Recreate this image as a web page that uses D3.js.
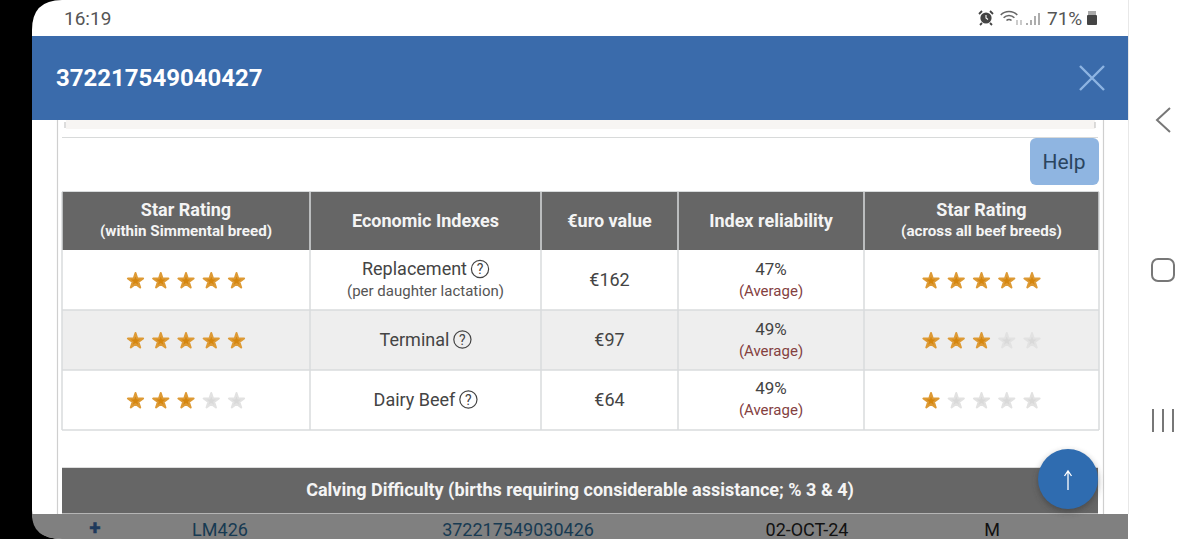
<!DOCTYPE html>
<html>
<head>
<meta charset="utf-8">
<script src="https://cdn.jsdelivr.net/npm/d3@7"></script>
<style>
  html, body { margin: 0; padding: 0; background: #fff; overflow: hidden; }
  svg { display: block; font-family: Roboto, sans-serif; }
</style>
</head>
<body>
<div id="container"></div>
<script>
/* DATA */
const columnTitles = ["Star Rating", "Economic Indexes", "€uro value", "Index reliability", "Star Rating"];
const columnSubtitles = ["(within Simmental breed)", "", "", "", "(across all beef breeds)"];
const indexNames = ["Replacement", "Terminal", "Dairy Beef"];
const indexNotes = ["(per daughter lactation)", "", ""];
const euroValues = [162, 97, 64];
const reliability = [47, 49, 49];
const reliabilityLabels = ["(Average)", "(Average)", "(Average)"];
const starsWithinBreed = [5, 5, 3];
const starsAcrossBreeds = [5, 3, 1];
const bottomRow = ["LM426", "372217549030426", "02-OCT-24", "M"];
const animalId = "372217549040427";
const calvingTitle = "Calving Difficulty (births requiring considerable assistance; % 3 & 4)";

/* CONSTANTS */
const width = 1200, height = 539;
const columnEdges = [62, 310, 541, 678, 864, 1099];
const rowTop = 250, rowBottom = 430;
const gridColor = "#d8dbdc", headColor = "#666666", blue = "#3a6bab";
const starOn = "#d5860f", starOff = "#d9d9d9";
const bodyText = "#444444";

const svg = d3.select("#container").append("svg")
  .attr("width", width)
  .attr("height", height);

// SCALES
const rowY = d3.scaleBand().domain(indexNames).range([rowTop, rowBottom]);
const colCenter = i => (columnEdges[i] + columnEdges[i + 1]) / 2;
const starX = d3.scalePoint().domain(d3.range(5)).range([-50.5, 50.5]);

function addText(g, x, y, str, size, fill, weight, anchor) {
  return g.append("text")
    .attr("x", x).attr("y", y)
    .attr("text-anchor", anchor || "middle")
    .attr("font-size", size)
    .attr("font-weight", weight || 400)
    .attr("fill", fill)
    .text(str);
}

// screen background + black bezel on the left
svg.append("rect").attr("width", width).attr("height", height).attr("fill", "#000");
svg.append("path")
  .attr("d", "M32,30 Q32,0 62,0 H1200 V539 H62 Q32,539 32,510 Z")
  .attr("fill", "#fff");

// status bar
addText(svg, 64, 25, "16:19", 19, "#555", 400, "start");
addText(svg, 1047, 25, "71%", 19, "#555", 400, "start");

const alarm = svg.append("g").attr("transform", "translate(986,18)");
alarm.append("circle").attr("r", 5.6).attr("fill", "#444");
alarm.append("path").attr("d", "M0,-3V0L2,1.5").attr("stroke", "#fff").attr("stroke-width", 1.1).attr("fill", "none");
alarm.append("path").attr("d", "M-7,-4L-4,-7M7,-4L4,-7M-4,5L-6,7M4,5L6,7").attr("stroke", "#444").attr("stroke-width", 1.8);

const wifi = svg.append("g").attr("transform", "translate(1009,23)").attr("fill", "none").attr("stroke", "#666").attr("stroke-width", 1.6);
[3.5, 7.5, 11.5].forEach(r => wifi.append("path")
  .attr("d", d3.arc()({ innerRadius: r, outerRadius: r, startAngle: -0.8, endAngle: 0.8 })));
wifi.append("path").attr("d", "M8,2V-3M12,2V-3").attr("stroke", "#aaa").attr("stroke-width", 1.2);

const signal = svg.append("g").attr("stroke", "#999").attr("stroke-width", 1.6);
[[1027, 2], [1031, 5], [1035, 9], [1039, 12]].forEach(b => signal.append("line")
  .attr("x1", b[0]).attr("x2", b[0]).attr("y1", 25).attr("y2", 25 - b[1]));

svg.append("rect").attr("x", 1087).attr("y", 15).attr("width", 10).attr("height", 10).attr("rx", 1).attr("fill", "#444");
svg.append("rect").attr("x", 1088).attr("y", 11).attr("width", 8).attr("height", 4).attr("fill", "#aaa");

// title band
svg.append("rect").attr("x", 32).attr("y", 36).attr("width", 1096).attr("height", 84).attr("fill", blue);
addText(svg, 56, 86, animalId, 24, "#fff", 700, "start");
svg.append("path").attr("d", "M1080,66L1104,90M1104,66L1080,90")
  .attr("stroke", "#8db4e2").attr("stroke-width", 2.4);

// page furniture under the band
svg.append("rect").attr("x", 66).attr("y", 120).attr("width", 1029).attr("height", 9).attr("fill", "#f7f5f3");
svg.append("path").attr("d", "M57.5,120V514M1103.5,120V514").attr("stroke", "#cfcfcf").attr("stroke-width", 1.2);
svg.append("path").attr("d", "M65,122V128M1095,122V128").attr("stroke", "#bbb");
svg.append("line").attr("x1", 62).attr("x2", 1098).attr("y1", 137.5).attr("y2", 137.5).attr("stroke", "#d8dada");

// help button
svg.append("rect").attr("x", 1030).attr("y", 138).attr("width", 69).attr("height", 47).attr("rx", 6).attr("fill", "#8fb5e1");
addText(svg, 1064, 169, "Help", 21, "#2a4560");

// table header
svg.append("rect").attr("x", 62).attr("y", 192).attr("width", 1037).attr("height", 58).attr("fill", headColor);
columnTitles.forEach((t, i) => {
  const two = columnSubtitles[i] !== "";
  addText(svg, colCenter(i), two ? 216 : 227, t, 18, "#f4f4f4", 700);
  if (two) addText(svg, colCenter(i), 236, columnSubtitles[i], 15.2, "#f4f4f4", 700);
});

// body rows
const rows = svg.selectAll("g.row")
  .data(indexNames)
  .join("g")
  .attr("class", "row")
  .attr("transform", d => `translate(0,${rowY(d)})`);

rows.append("rect")
  .attr("x", 62)
  .attr("width", 1037)
  .attr("height", rowY.bandwidth())
  .attr("fill", (d, i) => i === 1 ? "#eeeeee" : "#fff");

// grid lines
const grid = svg.append("g").attr("stroke", gridColor).attr("stroke-width", 1.5);
columnEdges.forEach(x => grid.append("line")
  .attr("x1", x).attr("x2", x).attr("y1", 192).attr("y2", rowBottom));
rowY.domain().forEach(d => grid.append("line")
  .attr("x1", 62).attr("x2", 1099).attr("y1", rowY(d) + rowY.bandwidth()).attr("y2", rowY(d) + rowY.bandwidth()));
svg.append("line").attr("x1", 62).attr("x2", 1099).attr("y1", 191.5).attr("y2", 191.5).attr("stroke", gridColor);

const starPath = d3.symbol().type(d3.symbolStar).size(72)();

function drawStars(values, col) {
  rows.each(function (d, i) {
    d3.select(this).selectAll(`path.star${col}`)
      .data(d3.range(5))
      .join("path")
      .attr("class", `star${col}`)
      .attr("d", starPath)
      .attr("transform", s => `translate(${colCenter(col) + starX(s)},31)`)
      .attr("fill", s => s < values[i] ? starOn : starOff)
      .attr("stroke", s => s < values[i] ? "#dd9a35" : "#e2e2e2")
      .attr("stroke-width", 2)
      .attr("stroke-linejoin", "round");
  });
}
drawStars(starsWithinBreed, 0);
drawStars(starsAcrossBreeds, 4);

// index name cells with help glyph
rows.each(function (d, i) {
  const g = d3.select(this);
  const hasNote = indexNotes[i] !== "";
  const label = addText(g, colCenter(1) - 11, hasNote ? 25 : 36, d, 18, bodyText);
  const right = label.node().getComputedTextLength() / 2 + colCenter(1) - 11;
  g.append("circle")
    .attr("cx", right + 13).attr("cy", hasNote ? 19 : 29.5).attr("r", 8.6)
    .attr("fill", "none").attr("stroke", bodyText).attr("stroke-width", 1.2);
  addText(g, right + 13, hasNote ? 24 : 34.5, "?", 14, bodyText);
  if (hasNote) addText(g, colCenter(1), 46, indexNotes[i], 15, "#555");

  // the last row sits a touch higher in the screenshot
  const nudge = i === 2 ? -1 : 0;
  addText(g, colCenter(2), 36, "€" + euroValues[i], 18, bodyText);
  addText(g, colCenter(3), 25 + nudge, reliability[i] + "%", 17, bodyText);
  addText(g, colCenter(3), 46 + nudge, reliabilityLabels[i], 15, "#84413f");
});

// calving table head
svg.append("rect").attr("x", 62).attr("y", 468).attr("width", 1036).attr("height", 46).attr("fill", headColor);
svg.append("line").attr("x1", 62).attr("x2", 1098).attr("y1", 467.5).attr("y2", 467.5).attr("stroke", "#ddd");
addText(svg, 580, 496, calvingTitle, 18, "#f4f4f4", 700);

// dimmed row at the very bottom
svg.append("path")
  .attr("d", "M32,514 H1128 V539 H62 Q32,539 32,514 Z")
  .attr("fill", "#808080");
svg.append("line").attr("x1", 62).attr("x2", 1098).attr("y1", 513.5).attr("y2", 513.5).attr("stroke", "#b5b5b5");
addText(svg, 95, 534.6, "+", 20, "#1f3a5c", 700).attr("stroke", "#1f3a5c").attr("stroke-width", 0.6);
addText(svg, 220, 536, bottomRow[0], 18, "#173a52");
addText(svg, 518, 536, bottomRow[1], 18, "#173a52");
addText(svg, 807, 536, bottomRow[2], 18, "#111");
addText(svg, 992, 536, bottomRow[3], 18, "#111");

// scroll to top button
const defs = svg.append("defs");
const blur = defs.append("filter").attr("id", "sh").attr("x", "-30%").attr("y", "-30%").attr("width", "160%").attr("height", "160%");
blur.append("feGaussianBlur").attr("stdDeviation", 3);
svg.append("circle").attr("cx", 1068).attr("cy", 482).attr("r", 30)
  .attr("fill", "#333").attr("opacity", 0.5).attr("filter", "url(#sh)");
svg.append("circle").attr("cx", 1068).attr("cy", 479).attr("r", 30).attr("fill", "#2f6cb0");
svg.append("path").attr("d", "M1068,490V472M1064.5,476L1068,471L1071.5,476")
  .attr("stroke", "#fff").attr("stroke-width", 1.3).attr("fill", "none");

// android nav bar
svg.append("line").attr("x1", 1128.5).attr("x2", 1128.5).attr("y1", 0).attr("y2", 514).attr("stroke", "#e8e8e8");
const nav = svg.append("g").attr("stroke", "#777").attr("stroke-width", 2).attr("fill", "none");
nav.append("path").attr("d", "M1170,108L1157,120L1170,132");
nav.append("rect").attr("x", 1152).attr("y", 259).attr("width", 22).attr("height", 22).attr("rx", 6);
nav.append("path").attr("d", "M1153,409V432M1163,409V432M1173,409V432");
</script>
</body>
</html>
